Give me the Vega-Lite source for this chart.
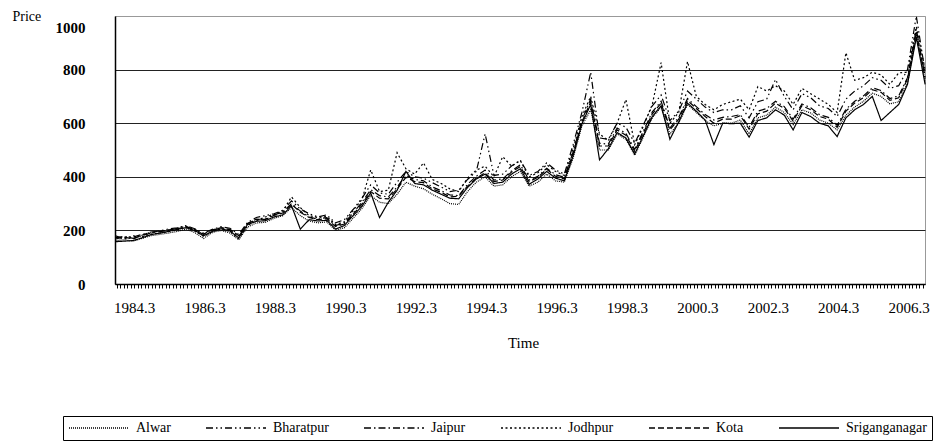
{
"$schema": "https://vega.github.io/schema/vega-lite/v6.json",
"width": 810, "height": 268,
"autosize": {"type": "none"},
"padding": {"left": 115, "top": 16, "right": 10, "bottom": 159},
"background": "white",
"config": {"view": {"stroke": "#999", "strokeWidth": 1}, "font": "Liberation Serif", "legend": {"labelFont": "Liberation Serif", "labelFontSize": 14}},
"data": {"values": [
{"t":1983.67,"Alwar":162,"Bharatpur":180,"Jaipur":172,"Jodhpur":175,"Kota":168,"Sriganganagar":158},
{"t":1983.92,"Alwar":165,"Bharatpur":168,"Jaipur":178,"Jodhpur":170,"Kota":175,"Sriganganagar":160},
{"t":1984.17,"Alwar":160,"Bharatpur":175,"Jaipur":170,"Jodhpur":180,"Kota":168,"Sriganganagar":162},
{"t":1984.42,"Alwar":170,"Bharatpur":185,"Jaipur":180,"Jodhpur":176,"Kota":182,"Sriganganagar":172},
{"t":1984.67,"Alwar":180,"Bharatpur":192,"Jaipur":190,"Jodhpur":186,"Kota":194,"Sriganganagar":184},
{"t":1984.92,"Alwar":185,"Bharatpur":198,"Jaipur":195,"Jodhpur":190,"Kota":196,"Sriganganagar":190},
{"t":1985.17,"Alwar":190,"Bharatpur":205,"Jaipur":200,"Jodhpur":195,"Kota":202,"Sriganganagar":196},
{"t":1985.42,"Alwar":196,"Bharatpur":210,"Jaipur":208,"Jodhpur":202,"Kota":206,"Sriganganagar":204},
{"t":1985.67,"Alwar":205,"Bharatpur":218,"Jaipur":215,"Jodhpur":212,"Kota":214,"Sriganganagar":210},
{"t":1985.92,"Alwar":192,"Bharatpur":206,"Jaipur":202,"Jodhpur":198,"Kota":204,"Sriganganagar":200},
{"t":1986.17,"Alwar":170,"Bharatpur":190,"Jaipur":185,"Jodhpur":178,"Kota":186,"Sriganganagar":180},
{"t":1986.42,"Alwar":192,"Bharatpur":204,"Jaipur":200,"Jodhpur":195,"Kota":202,"Sriganganagar":196},
{"t":1986.67,"Alwar":200,"Bharatpur":214,"Jaipur":210,"Jodhpur":206,"Kota":210,"Sriganganagar":206},
{"t":1986.92,"Alwar":190,"Bharatpur":208,"Jaipur":202,"Jodhpur":196,"Kota":204,"Sriganganagar":198},
{"t":1987.17,"Alwar":165,"Bharatpur":185,"Jaipur":178,"Jodhpur":170,"Kota":180,"Sriganganagar":172},
{"t":1987.42,"Alwar":212,"Bharatpur":230,"Jaipur":225,"Jodhpur":218,"Kota":226,"Sriganganagar":222},
{"t":1987.67,"Alwar":228,"Bharatpur":248,"Jaipur":240,"Jodhpur":236,"Kota":242,"Sriganganagar":234},
{"t":1987.92,"Alwar":230,"Bharatpur":255,"Jaipur":242,"Jodhpur":250,"Kota":240,"Sriganganagar":236},
{"t":1988.17,"Alwar":245,"Bharatpur":262,"Jaipur":258,"Jodhpur":260,"Kota":256,"Sriganganagar":250},
{"t":1988.42,"Alwar":255,"Bharatpur":275,"Jaipur":268,"Jodhpur":272,"Kota":265,"Sriganganagar":258},
{"t":1988.67,"Alwar":285,"Bharatpur":310,"Jaipur":300,"Jodhpur":325,"Kota":298,"Sriganganagar":292},
{"t":1988.92,"Alwar":255,"Bharatpur":280,"Jaipur":272,"Jodhpur":285,"Kota":268,"Sriganganagar":205},
{"t":1989.17,"Alwar":235,"Bharatpur":262,"Jaipur":250,"Jodhpur":255,"Kota":248,"Sriganganagar":240},
{"t":1989.42,"Alwar":228,"Bharatpur":250,"Jaipur":242,"Jodhpur":248,"Kota":240,"Sriganganagar":235},
{"t":1989.67,"Alwar":232,"Bharatpur":258,"Jaipur":248,"Jodhpur":252,"Kota":244,"Sriganganagar":238},
{"t":1989.92,"Alwar":200,"Bharatpur":228,"Jaipur":218,"Jodhpur":222,"Kota":214,"Sriganganagar":205},
{"t":1990.17,"Alwar":210,"Bharatpur":240,"Jaipur":228,"Jodhpur":232,"Kota":224,"Sriganganagar":218},
{"t":1990.42,"Alwar":245,"Bharatpur":278,"Jaipur":265,"Jodhpur":275,"Kota":260,"Sriganganagar":255},
{"t":1990.67,"Alwar":282,"Bharatpur":320,"Jaipur":305,"Jodhpur":315,"Kota":298,"Sriganganagar":290},
{"t":1990.92,"Alwar":330,"Bharatpur":370,"Jaipur":352,"Jodhpur":426,"Kota":345,"Sriganganagar":340},
{"t":1991.17,"Alwar":305,"Bharatpur":340,"Jaipur":330,"Jodhpur":345,"Kota":320,"Sriganganagar":248},
{"t":1991.42,"Alwar":300,"Bharatpur":335,"Jaipur":325,"Jodhpur":350,"Kota":318,"Sriganganagar":305},
{"t":1991.67,"Alwar":335,"Bharatpur":380,"Jaipur":362,"Jodhpur":490,"Kota":355,"Sriganganagar":350},
{"t":1991.92,"Alwar":380,"Bharatpur":420,"Jaipur":405,"Jodhpur":430,"Kota":398,"Sriganganagar":420},
{"t":1992.17,"Alwar":365,"Bharatpur":400,"Jaipur":390,"Jodhpur":410,"Kota":382,"Sriganganagar":375},
{"t":1992.42,"Alwar":355,"Bharatpur":395,"Jaipur":385,"Jodhpur":452,"Kota":378,"Sriganganagar":370},
{"t":1992.67,"Alwar":335,"Bharatpur":378,"Jaipur":362,"Jodhpur":390,"Kota":355,"Sriganganagar":350},
{"t":1992.92,"Alwar":318,"Bharatpur":362,"Jaipur":348,"Jodhpur":375,"Kota":342,"Sriganganagar":335},
{"t":1993.17,"Alwar":300,"Bharatpur":345,"Jaipur":332,"Jodhpur":355,"Kota":325,"Sriganganagar":320},
{"t":1993.42,"Alwar":297,"Bharatpur":350,"Jaipur":330,"Jodhpur":345,"Kota":328,"Sriganganagar":318},
{"t":1993.67,"Alwar":345,"Bharatpur":390,"Jaipur":372,"Jodhpur":395,"Kota":365,"Sriganganagar":360},
{"t":1993.92,"Alwar":380,"Bharatpur":420,"Jaipur":402,"Jodhpur":425,"Kota":395,"Sriganganagar":392},
{"t":1994.17,"Alwar":400,"Bharatpur":560,"Jaipur":425,"Jodhpur":440,"Kota":415,"Sriganganagar":410},
{"t":1994.42,"Alwar":365,"Bharatpur":405,"Jaipur":388,"Jodhpur":400,"Kota":382,"Sriganganagar":375},
{"t":1994.67,"Alwar":370,"Bharatpur":410,"Jaipur":392,"Jodhpur":475,"Kota":388,"Sriganganagar":380},
{"t":1994.92,"Alwar":400,"Bharatpur":440,"Jaipur":422,"Jodhpur":440,"Kota":418,"Sriganganagar":410},
{"t":1995.17,"Alwar":420,"Bharatpur":462,"Jaipur":445,"Jodhpur":460,"Kota":438,"Sriganganagar":430},
{"t":1995.42,"Alwar":365,"Bharatpur":405,"Jaipur":388,"Jodhpur":400,"Kota":382,"Sriganganagar":372},
{"t":1995.67,"Alwar":380,"Bharatpur":420,"Jaipur":402,"Jodhpur":415,"Kota":398,"Sriganganagar":392},
{"t":1995.92,"Alwar":410,"Bharatpur":452,"Jaipur":432,"Jodhpur":445,"Kota":428,"Sriganganagar":420},
{"t":1996.17,"Alwar":385,"Bharatpur":425,"Jaipur":408,"Jodhpur":420,"Kota":402,"Sriganganagar":395},
{"t":1996.42,"Alwar":380,"Bharatpur":410,"Jaipur":398,"Jodhpur":405,"Kota":392,"Sriganganagar":385},
{"t":1996.67,"Alwar":470,"Bharatpur":520,"Jaipur":492,"Jodhpur":505,"Kota":488,"Sriganganagar":478},
{"t":1996.92,"Alwar":590,"Bharatpur":640,"Jaipur":612,"Jodhpur":625,"Kota":605,"Sriganganagar":598},
{"t":1997.17,"Alwar":650,"Bharatpur":790,"Jaipur":690,"Jodhpur":700,"Kota":680,"Sriganganagar":670},
{"t":1997.42,"Alwar":500,"Bharatpur":545,"Jaipur":525,"Jodhpur":560,"Kota":515,"Sriganganagar":463},
{"t":1997.67,"Alwar":500,"Bharatpur":540,"Jaipur":522,"Jodhpur":535,"Kota":515,"Sriganganagar":505},
{"t":1997.92,"Alwar":560,"Bharatpur":600,"Jaipur":582,"Jodhpur":600,"Kota":575,"Sriganganagar":565},
{"t":1998.17,"Alwar":540,"Bharatpur":585,"Jaipur":562,"Jodhpur":688,"Kota":555,"Sriganganagar":545},
{"t":1998.42,"Alwar":480,"Bharatpur":525,"Jaipur":502,"Jodhpur":520,"Kota":495,"Sriganganagar":485},
{"t":1998.67,"Alwar":550,"Bharatpur":595,"Jaipur":572,"Jodhpur":590,"Kota":565,"Sriganganagar":555},
{"t":1998.92,"Alwar":620,"Bharatpur":665,"Jaipur":642,"Jodhpur":670,"Kota":635,"Sriganganagar":625},
{"t":1999.17,"Alwar":660,"Bharatpur":705,"Jaipur":682,"Jodhpur":826,"Kota":675,"Sriganganagar":665},
{"t":1999.42,"Alwar":560,"Bharatpur":610,"Jaipur":582,"Jodhpur":600,"Kota":575,"Sriganganagar":540},
{"t":1999.67,"Alwar":600,"Bharatpur":645,"Jaipur":622,"Jodhpur":640,"Kota":615,"Sriganganagar":605},
{"t":1999.92,"Alwar":670,"Bharatpur":720,"Jaipur":692,"Jodhpur":830,"Kota":685,"Sriganganagar":675},
{"t":2000.17,"Alwar":640,"Bharatpur":690,"Jaipur":662,"Jodhpur":700,"Kota":655,"Sriganganagar":645},
{"t":2000.42,"Alwar":610,"Bharatpur":660,"Jaipur":632,"Jodhpur":670,"Kota":625,"Sriganganagar":612},
{"t":2000.67,"Alwar":590,"Bharatpur":640,"Jaipur":612,"Jodhpur":650,"Kota":600,"Sriganganagar":520},
{"t":2000.92,"Alwar":600,"Bharatpur":650,"Jaipur":622,"Jodhpur":670,"Kota":615,"Sriganganagar":600},
{"t":2001.17,"Alwar":600,"Bharatpur":650,"Jaipur":625,"Jodhpur":680,"Kota":615,"Sriganganagar":598},
{"t":2001.42,"Alwar":612,"Bharatpur":665,"Jaipur":632,"Jodhpur":690,"Kota":628,"Sriganganagar":600},
{"t":2001.67,"Alwar":560,"Bharatpur":620,"Jaipur":585,"Jodhpur":650,"Kota":578,"Sriganganagar":548},
{"t":2001.92,"Alwar":620,"Bharatpur":680,"Jaipur":645,"Jodhpur":737,"Kota":635,"Sriganganagar":610},
{"t":2002.17,"Alwar":630,"Bharatpur":690,"Jaipur":655,"Jodhpur":720,"Kota":645,"Sriganganagar":620},
{"t":2002.42,"Alwar":660,"Bharatpur":763,"Jaipur":682,"Jodhpur":740,"Kota":675,"Sriganganagar":650},
{"t":2002.67,"Alwar":640,"Bharatpur":700,"Jaipur":662,"Jodhpur":720,"Kota":655,"Sriganganagar":630},
{"t":2002.92,"Alwar":595,"Bharatpur":650,"Jaipur":615,"Jodhpur":670,"Kota":608,"Sriganganagar":575},
{"t":2003.17,"Alwar":650,"Bharatpur":710,"Jaipur":672,"Jodhpur":730,"Kota":665,"Sriganganagar":640},
{"t":2003.42,"Alwar":638,"Bharatpur":695,"Jaipur":658,"Jodhpur":710,"Kota":650,"Sriganganagar":625},
{"t":2003.67,"Alwar":612,"Bharatpur":665,"Jaipur":632,"Jodhpur":690,"Kota":625,"Sriganganagar":600},
{"t":2003.92,"Alwar":600,"Bharatpur":655,"Jaipur":622,"Jodhpur":670,"Kota":615,"Sriganganagar":590},
{"t":2004.17,"Alwar":575,"Bharatpur":625,"Jaipur":592,"Jodhpur":640,"Kota":585,"Sriganganagar":550},
{"t":2004.42,"Alwar":630,"Bharatpur":690,"Jaipur":652,"Jodhpur":863,"Kota":645,"Sriganganagar":620},
{"t":2004.67,"Alwar":660,"Bharatpur":720,"Jaipur":682,"Jodhpur":760,"Kota":675,"Sriganganagar":650},
{"t":2004.92,"Alwar":682,"Bharatpur":740,"Jaipur":702,"Jodhpur":770,"Kota":695,"Sriganganagar":670},
{"t":2005.17,"Alwar":712,"Bharatpur":770,"Jaipur":732,"Jodhpur":790,"Kota":725,"Sriganganagar":700},
{"t":2005.42,"Alwar":700,"Bharatpur":760,"Jaipur":722,"Jodhpur":780,"Kota":715,"Sriganganagar":610},
{"t":2005.67,"Alwar":672,"Bharatpur":730,"Jaipur":692,"Jodhpur":745,"Kota":685,"Sriganganagar":640},
{"t":2005.92,"Alwar":680,"Bharatpur":740,"Jaipur":702,"Jodhpur":788,"Kota":695,"Sriganganagar":670},
{"t":2006.17,"Alwar":750,"Bharatpur":800,"Jaipur":770,"Jodhpur":790,"Kota":765,"Sriganganagar":745},
{"t":2006.42,"Alwar":930,"Bharatpur":1000,"Jaipur":950,"Jodhpur":960,"Kota":940,"Sriganganagar":920},
{"t":2006.67,"Alwar":760,"Bharatpur":790,"Jaipur":775,"Jodhpur":800,"Kota":770,"Sriganganagar":745}
]},
"transform": [{"fold": ["Alwar","Bharatpur","Jaipur","Jodhpur","Kota","Sriganganagar"], "as": ["market","price"]}],
"mark": {"type": "line", "color": "black", "strokeWidth": 1.2},
"encoding": {
  "x": {"field": "t", "type": "quantitative",
    "scale": {"domain": [1983.655, 2006.667], "nice": false, "zero": false},
    "axis": {"title": "Time", "titleFont": "Liberation Serif", "titleFontSize": 15, "titleFontWeight": "normal", "titleColor": "black",
      "titleX": 408, "titleY": 58, "titleAlign": "center", "titleBaseline": "middle",
      "tickCount": 276, "tickSize": 4, "tickColor": "black", "domainColor": "black", "domainWidth": 1.5, "grid": false,
      "labelExpr": "round(datum.value*10) % 20 == 2 ? floor(datum.value) + '.3' : ''",
      "labelOverlap": false, "labelFlush": false, "labelBound": false, "labelAngle": 0,
      "labelFont": "Liberation Serif", "labelFontSize": 15, "labelColor": "black", "labelPadding": 12}},
  "y": {"field": "price", "type": "quantitative",
    "scale": {"domain": [0, 1000], "nice": false},
    "axis": {"values": [0,200,400,600,800,1000], "format": "d", "title": "Price", "titleAngle": 0, "titleAlign": "left", "titleBaseline": "alphabetic",
      "titleX": -103, "titleY": 4, "titleFont": "Liberation Serif", "titleFontSize": 14, "titleFontWeight": "normal", "titleColor": "black",
      "labelFont": "Liberation Serif", "labelFontSize": 15, "labelFontWeight": "bold", "labelColor": "black", "labelPadding": 30,
      "labelOffset": {"condition": {"test": "datum.value == 1000", "value": 11}, "value": 0},
      "ticks": false, "tickSize": 0, "domainColor": "black", "domainWidth": 1.5,
      "grid": true, "gridColor": {"condition": {"test": "datum.value == 1000", "value": "#999"}, "value": "#222"}, "gridWidth": 1.2}},
  "strokeDash": {"field": "market", "type": "nominal",
    "scale": {"domain": ["Alwar","Bharatpur","Jaipur","Jodhpur","Kota","Sriganganagar"],
      "range": [[1,1],[7,3,1.5,3,1.5,3],[7,3,1.5,3],[2,2.5],[6,3],[1,0]]},
    "legend": {"title": null, "orient": "none", "legendX": -52, "legendY": 400, "direction": "horizontal", "columns": 6,
      "symbolType": "stroke", "symbolSize": 3600, "clipHeight": 14, "symbolStrokeWidth": 1.5, "symbolStrokeColor": "black",
      "labelFont": "Liberation Serif", "labelFontSize": 14, "labelColor": "black", "labelOffset": 6, "columnPadding": 34,
      "padding": 5, "strokeColor": "black", "fillColor": "white"}}
}
}
